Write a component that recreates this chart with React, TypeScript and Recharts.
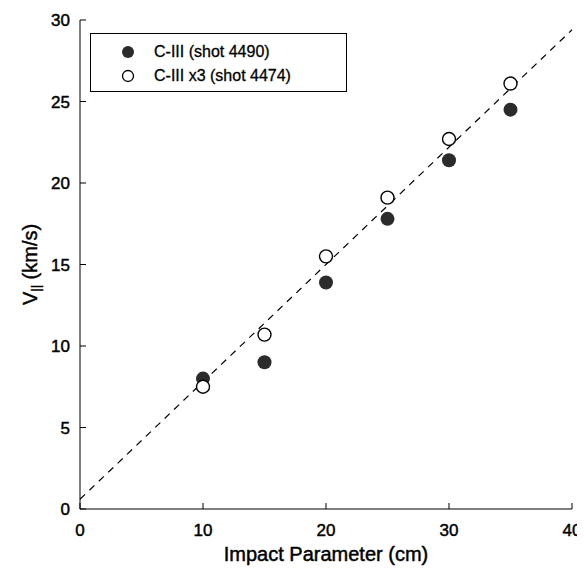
import { ScatterChart, Scatter, XAxis, YAxis, ReferenceLine, Legend, Label } from 'recharts';

const impactParams = [10, 15, 20, 25, 30, 35];
const shot4490 = [8.0, 9.0, 13.9, 17.8, 21.4, 24.5];
const shot4474x3 = [7.5, 10.7, 15.5, 19.1, 22.7, 26.1];
const fitLine = [
  { x: 0, y: 0.6 },
  { x: 40, y: 29.4 },
];
const xTicks = [0, 10, 20, 30, 40];
const yTicks = [0, 5, 10, 15, 20, 25, 30];

const FONT = '"Liberation Sans", Arial, Helvetica, sans-serif';
// scanned original looks a bit heavy, thicken glyphs a little
const heavy = { stroke: '#000', strokeWidth: 0.45 };

const filled = impactParams.map((x, i) => ({ x, y: shot4490[i] }));
const open = impactParams.map((x, i) => ({ x, y: shot4474x3[i] }));

const FilledDot = (p: any) => <circle cx={p.cx} cy={p.cy} r={7} fill="#2b2b2b" />;
const OpenDot = (p: any) => <circle cx={p.cx} cy={p.cy} r={6.5} fill="#fff" stroke="#000" strokeWidth={1.4} />;

const BottomTick = (p: any) => (
  <g>
    <line x1={p.x} y1={p.y} x2={p.x} y2={p.y - 6} stroke="#000" />
    <text x={p.x} y={p.y + 27} textAnchor="middle" fontSize={17} fontFamily={FONT} fill="#000" {...heavy}>
      {p.payload.value}
    </text>
  </g>
);
const TopTick = (p: any) => <line x1={p.x} y1={p.y} x2={p.x} y2={p.y + 6} stroke="#000" />;
const LeftTick = (p: any) => (
  <g>
    <line x1={p.x} y1={p.y} x2={p.x + 6} y2={p.y} stroke="#000" />
    <text x={p.x - 10} y={p.y + 6} textAnchor="end" fontSize={17} fontFamily={FONT} fill="#000" {...heavy}>
      {p.payload.value}
    </text>
  </g>
);
const RightTick = (p: any) => <line x1={p.x} y1={p.y} x2={p.x - 6} y2={p.y} stroke="#000" />;

const YTitle = (p: any) => {
  const vb = p.viewBox;
  const cx = vb.x + 10;
  const cy = vb.y + vb.height / 2;
  return (
    <text
      transform={`translate(${cx},${cy}) rotate(-90)`}
      textAnchor="middle"
      fontSize={20}
      fontFamily={FONT}
      fill="#000"
      dominantBaseline="central"
      {...heavy}
    >
      V<tspan fontSize={13} dy={5}>||</tspan>
      <tspan dy={-5}> (km/s)</tspan>
    </text>
  );
};

const LegendBox = () => (
  <div
    style={{
      width: 257,
      height: 59,
      border: '1px solid #000',
      background: '#fff',
      fontFamily: FONT,
      fontSize: 16,
      boxSizing: 'border-box',
      padding: '6px 0 0 30px',
      WebkitTextStroke: '0.3px #000',
    }}
  >
    {[
      { label: 'C-III (shot 4490)', fill: '#2b2b2b', stroke: 'none' },
      { label: 'C-III x3 (shot 4474)', fill: '#fff', stroke: '#000' },
    ].map((it) => (
      <div key={it.label} style={{ display: 'flex', alignItems: 'center', height: 24 }}>
        <svg width={14} height={14} style={{ marginRight: 19 }}>
          <circle cx={7} cy={7} r={it.stroke === 'none' ? 6 : 5.5} fill={it.fill} stroke={it.stroke} strokeWidth={1.3} />
        </svg>
        <span>{it.label}</span>
      </div>
    ))}
  </div>
);

export default function App() {
  return (
    <ScatterChart width={577} height={565} margin={{ top: 12, right: 13, bottom: 12, left: 12 }} style={{ background: '#fff' }}>
      <XAxis
        xAxisId={0}
        type="number"
        dataKey="x"
        domain={[0, 40]}
        ticks={xTicks}
        height={52}
        tickSize={0}
        tickMargin={0}
        tickLine={false}
        tick={<BottomTick />}
        axisLine={{ stroke: '#000' }}
      >
        <Label value="Impact Parameter (cm)" position="insideBottom" offset={0} fontSize={20} fontFamily={FONT} fill="#000" {...heavy} />
      </XAxis>
      <XAxis
        xAxisId="top"
        orientation="top"
        type="number"
        dataKey="x"
        domain={[0, 40]}
        ticks={xTicks}
        height={0}
        tickSize={0}
        tickMargin={0}
        tickLine={false}
        tick={<TopTick />}
        axisLine={{ stroke: '#000' }}
      />
      <YAxis
        yAxisId={0}
        type="number"
        dataKey="y"
        domain={[0, 30]}
        ticks={yTicks}
        width={60}
        tickSize={0}
        tickMargin={0}
        tickLine={false}
        tick={<LeftTick />}
        axisLine={{ stroke: '#000' }}
      >
        <Label content={<YTitle />} />
      </YAxis>
      <YAxis
        yAxisId="right"
        orientation="right"
        type="number"
        dataKey="y"
        domain={[0, 30]}
        ticks={yTicks}
        width={0}
        tickSize={0}
        tickMargin={0}
        tickLine={false}
        tick={<RightTick />}
        axisLine={{ stroke: '#000' }}
      />
      <ReferenceLine segment={fitLine} stroke="#000" strokeWidth={1.2} strokeDasharray="7 6" />
      <Scatter name="C-III (shot 4490)" data={filled} shape={<FilledDot />} isAnimationActive={false} />
      <Scatter name="C-III x3 (shot 4474)" data={open} shape={<OpenDot />} isAnimationActive={false} />
      <Legend
        layout="vertical"
        align="center"
        verticalAlign="middle"
        content={<LegendBox />}
        wrapperStyle={{ top: 25, left: 82, width: 'auto', height: 'auto' }}
      />
    </ScatterChart>
  );
}
